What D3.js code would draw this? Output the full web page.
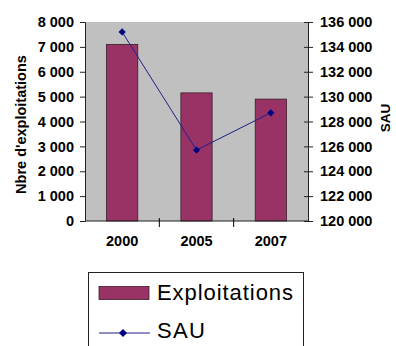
<!DOCTYPE html>
<html>
<head>
<meta charset="utf-8">
<script src="https://cdn.jsdelivr.net/npm/d3@7"></script>
<style>
  html, body { margin: 0; padding: 0; background: #fff; }
  svg { display: block; font-family: "Liberation Sans", Arial, sans-serif; }
</style>
</head>
<body>
<svg id="chart" width="396" height="346"></svg>
<script>
// Farm count and utilised agricultural area by census year
const years = ["2000", "2005", "2007"];
const exploitations = [7100, 5150, 4900];
const sau = [135200, 125700, 128700];
const leftTicks = [0, 1000, 2000, 3000, 4000, 5000, 6000, 7000, 8000];
const rightTicks = [120000, 122000, 124000, 126000, 128000, 130000, 132000, 134000, 136000];
const seriesNames = ["Exploitations", "SAU"];

const svg = d3.select("#chart");
const plot = { left: 85, right: 308, top: 22, bottom: 221 };
const fmt = v => d3.format(",")(v).replace(/,/g, " ");

const x = d3.scaleBand().domain(years).range([plot.left, plot.right]);
const yL = d3.scaleLinear().domain([0, 8000]).range([plot.bottom, plot.top]);
const yR = d3.scaleLinear().domain([120000, 136000]).range([plot.bottom, plot.top]);

// diamond marker: a square turned 45 degrees
const diamond = r => `M0,${-r}L${r},0L0,${r}L${-r},0Z`;

// plot background
svg.append("rect")
  .attr("x", plot.left).attr("y", plot.top)
  .attr("width", plot.right - plot.left).attr("height", plot.bottom - plot.top)
  .attr("fill", "#c0c0c0");

// bars
const barW = x.bandwidth() * 0.42;
svg.selectAll("rect.bar").data(years).enter().append("rect")
  .attr("class", "bar")
  .attr("x", d => x(d) + (x.bandwidth() - barW) / 2)
  .attr("y", (d, i) => yL(exploitations[i]))
  .attr("width", barW)
  .attr("height", (d, i) => yL(0) - yL(exploitations[i]))
  .attr("fill", "#993366")
  .attr("stroke", "#3a1a28")
  .attr("stroke-width", 0.8);

// left axis
const axL = svg.append("g")
  .attr("transform", `translate(${plot.left},0)`)
  .call(d3.axisLeft(yL).tickValues(leftTicks).tickFormat(fmt).tickSizeOuter(0).tickSize(5).tickPadding(6));
axL.selectAll("text").attr("font-size", 14.5).attr("font-weight", "bold").attr("fill", "#000");

// right axis with crossing ticks
const axR = svg.append("g")
  .attr("transform", `translate(${plot.right},0)`)
  .call(d3.axisRight(yR).tickValues(rightTicks).tickFormat(fmt).tickSizeOuter(0).tickSize(5).tickPadding(7));
axR.selectAll(".tick line").attr("x1", -4);
axR.selectAll("text").attr("font-size", 14.5).attr("font-weight", "bold").attr("fill", "#000");

// bottom axis: ticks between categories
const axB = svg.append("g")
  .attr("transform", `translate(0,${plot.bottom})`)
  .call(d3.axisBottom(x).tickSize(0).tickPadding(15));
axB.select(".domain").attr("d", `M${plot.left},0H${plot.right}`);
axB.selectAll("text").attr("font-size", 14.5).attr("font-weight", "bold").attr("fill", "#000");
axB.selectAll("line.sep").data(years.slice(1)).enter().append("line")
  .attr("class", "sep")
  .attr("x1", d => x(d)).attr("x2", d => x(d))
  .attr("y1", -3).attr("y2", 6)
  .attr("stroke", "#000");

svg.selectAll(".domain, .tick line").attr("stroke", "#222");

// SAU line with diamond markers
const line = d3.line()
  .x((d, i) => x(years[i]) + x.bandwidth() / 2)
  .y(d => yR(d));
svg.append("path")
  .datum(sau)
  .attr("d", line)
  .attr("fill", "none")
  .attr("stroke", "#1f1f8a")
  .attr("stroke-width", 1);
svg.selectAll("path.pt").data(sau).enter().append("path")
  .attr("class", "pt")
  .attr("transform", (d, i) => `translate(${x(years[i]) + x.bandwidth() / 2},${yR(d)})`)
  .attr("d", diamond(3.6))
  .attr("fill", "#000080");

// axis titles
svg.append("text")
  .attr("transform", `translate(26,${(plot.top + plot.bottom) / 2 + 3}) rotate(-90)`)
  .attr("text-anchor", "middle")
  .attr("font-size", 14.5).attr("font-weight", "bold").attr("fill", "#000")
  .text("Nbre d'exploitations");
svg.append("text")
  .attr("transform", `translate(390,118) rotate(-90)`)
  .attr("text-anchor", "middle")
  .attr("font-size", 13.5).attr("font-weight", "bold").attr("fill", "#000")
  .text("SAU");

// legend
const lg = svg.append("g");
lg.append("rect")
  .attr("x", 88.5).attr("y", 272.5).attr("width", 215).attr("height", 90)
  .attr("fill", "#fff").attr("stroke", "#222").attr("stroke-width", 1);
lg.append("rect")
  .attr("x", 99).attr("y", 286.5).attr("width", 50).attr("height", 13)
  .attr("fill", "#993366").attr("stroke", "#3a1a28").attr("stroke-width", 0.8);
lg.append("line")
  .attr("x1", 99).attr("x2", 150).attr("y1", 333).attr("y2", 333)
  .attr("stroke", "#1f1f8a").attr("stroke-width", 1.2);
lg.append("path")
  .attr("transform", "translate(123,333)")
  .attr("d", diamond(4))
  .attr("fill", "#000080");
lg.selectAll("text.lab").data(seriesNames).enter().append("text")
  .attr("class", "lab")
  .attr("x", 157)
  .attr("y", (d, i) => i === 0 ? 300 : 338)
  .attr("font-size", 22).attr("fill", "#000")
  .attr("textLength", (d, i) => i === 0 ? 136 : 48)
  .attr("lengthAdjust", "spacing")
  .text(d => d);
</script>
</body>
</html>
